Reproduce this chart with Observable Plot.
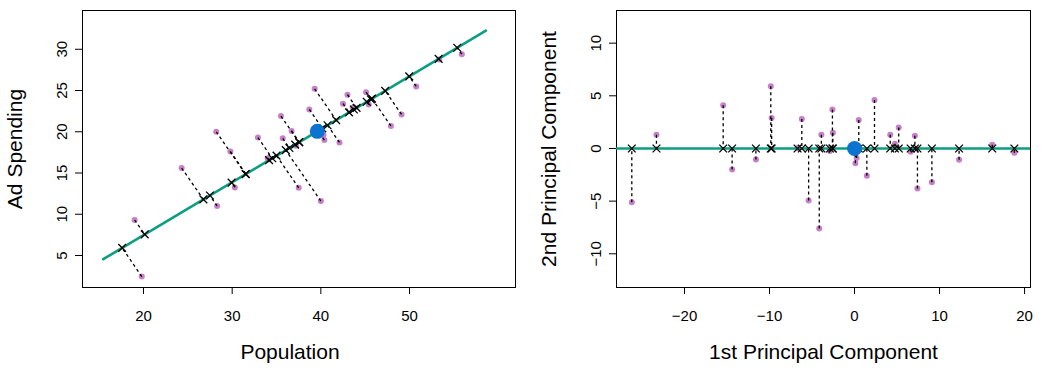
<!DOCTYPE html>
<html>
<head>
<meta charset="utf-8">
<script src="https://cdn.jsdelivr.net/npm/d3@7"></script>
<script src="https://cdn.jsdelivr.net/npm/@observablehq/plot@0.6"></script>
<style>
  html, body { margin: 0; padding: 0; background: #ffffff; }
  #chart { display: flex; flex-direction: row; width: 1042px; height: 377px; }
  #chart svg { display: block; }
</style>
</head>
<body>
<div id="chart"></div>
<script>
// ---- Left panel: raw observations (Population, Ad Spending) ----
const popValues = [28.2, 29.8, 30.3, 24.3, 28.3, 19.0, 19.8, 39.3, 43.0, 45.1,
                   42.5, 45.4, 43.6, 42.1, 47.9, 49.1, 50.75, 53.35, 55.9, 38.7,
                   35.5, 36.7, 32.9, 35.7, 40.3, 40.4, 37.5, 40.0, 34.0, 37.2];
const adValues  = [20.0, 17.6, 13.25, 15.6, 11.0, 9.3, 2.45, 25.2, 24.5, 24.8,
                   23.4, 23.3, 22.9, 18.7, 20.7, 22.1, 25.5, 28.75, 29.4, 22.7,
                   21.9, 20.1, 19.3, 19.2, 19.6, 19.0, 13.2, 11.6, 16.8, 18.3];
const meanPoint = [39.6, 20.05];        // blue dot (Population, Ad Spending)
const loading = [0.8412, 0.5401];       // first principal component direction
const lineExtent = [-28.7, 22.6];       // extent of the drawn PC1 line along the direction

// ---- Right panel: principal component scores ----
const pc1Scores = [-26.2, -23.3, -15.45, -14.4, -11.6, -9.85, -9.75, -6.7, -6.2, -5.4,
                   -4.15, -3.9, -2.9, -2.6, -2.55, 0.5, 0.25, 0.1, 1.45, 2.35,
                   4.2, 4.75, 5.2, 6.6, 7.1, 7.4, 9.1, 12.3, 16.2, 18.8];
const pc2Scores = [-5.1, 1.3, 4.1, -2.0, -1.05, 5.9, 2.9, 0.05, 2.8, -4.95,
                   -7.6, 1.3, -0.25, 3.7, 1.5, 2.7, -0.9, -1.4, -2.6, 4.6,
                   1.3, 0.45, 2.0, -0.3, 1.2, -3.8, -3.2, -1.08, 0.35, -0.4];
const pcMean = [0, 0];

// ---- Ticks & labels ----
const popTicks = [20, 30, 40, 50];
const adTicks = [5, 10, 15, 20, 25, 30];
const pc1Ticks = [-20, -10, 0, 10, 20];
const pc2Ticks = [-10, -5, 0, 5, 10];
const leftXLabel = "Population";
const leftYLabel = "Ad Spending";
const rightXLabel = "1st Principal Component";
const rightYLabel = "2nd Principal Component";

// ---- Styles ----
const PURPLE = "#c67fc8";
const BLUE = "#0b74d0";
const GREEN = "#0c9e80";
const FONT = "'Liberation Sans', Arial, Helvetica, sans-serif";

// Derived tables
const leftPts = popValues.map((p, i) => {
  const dx = p - meanPoint[0], dy = adValues[i] - meanPoint[1];
  const t = dx * loading[0] + dy * loading[1];
  return {x: p, y: adValues[i], px: meanPoint[0] + t * loading[0], py: meanPoint[1] + t * loading[1]};
});
const pcLine = lineExtent.map(t => ({x: meanPoint[0] + t * loading[0], y: meanPoint[1] + t * loading[1]}));
const rightPts = pc1Scores.map((z, i) => ({x: z, y: pc2Scores[i]}));

function axesMarks(xTicks, yTicks, xLabel, yLabel, xLabelDx) {
  return [
    Plot.frame({stroke: "black", strokeWidth: 1}),
    Plot.axisX({ticks: xTicks, tickSize: 7, tickPadding: 16, fontSize: 15, label: null, tickFormat: d => String(d).replace("-", "\u2212")}),
    Plot.axisY({ticks: yTicks, tickSize: 7, tickFormat: () => "", label: null}),
    Plot.text(yTicks, {y: d => d, text: d => String(d).replace("-", "\u2212"), frameAnchor: "left", dx: -20, rotate: -90, fontSize: 15, textAnchor: "middle", lineAnchor: "middle", fill: "black"}),
    Plot.text([xLabel], {frameAnchor: "bottom", dy: 65, dx: xLabelDx, fontSize: 21, textAnchor: "middle", lineAnchor: "middle", fill: "black"}),
    Plot.text([yLabel], {frameAnchor: "left", dx: -67, rotate: -90, fontSize: 21, textAnchor: "middle", lineAnchor: "middle", fill: "black"})
  ];
}

const left = Plot.plot({
  width: 521, height: 377,
  marginLeft: 82, marginRight: 6, marginTop: 10, marginBottom: 90,
  style: {fontFamily: FONT, background: "white", overflow: "visible"},
  x: {domain: [13.12, 61.95]},
  y: {domain: [1.12, 34.7]},
  marks: [
    ...axesMarks(popTicks, adTicks, leftXLabel, leftYLabel, -9),
    Plot.dot(leftPts, {x: "x", y: "y", r: 3, fill: PURPLE, stroke: "none"}),
    Plot.line(pcLine, {x: "x", y: "y", stroke: GREEN, strokeWidth: 2.6}),
    Plot.link(leftPts, {x1: "x", y1: "y", x2: "px", y2: "py", stroke: "black", strokeWidth: 1.3, strokeDasharray: "3,3"}),
    Plot.dot(leftPts, {x: "px", y: "py", symbol: "times", r: 3.6, stroke: "black", strokeWidth: 1.3}),
    Plot.dot([meanPoint], {x: d => d[0], y: d => d[1], r: 7.5, fill: BLUE, stroke: "none"})
  ]
});

const right = Plot.plot({
  width: 521, height: 377,
  marginLeft: 95, marginRight: 12, marginTop: 10, marginBottom: 90,
  style: {fontFamily: FONT, background: "white", overflow: "visible"},
  x: {domain: [-28, 20.7]},
  y: {domain: [-13.2, 13.1]},
  marks: [
    ...axesMarks(pc1Ticks, pc2Ticks, rightXLabel, rightYLabel, 0),
    Plot.dot(rightPts, {x: "x", y: "y", r: 3, fill: PURPLE, stroke: "none"}),
    Plot.ruleY([0], {stroke: GREEN, strokeWidth: 2.6}),
    Plot.link(rightPts, {x1: "x", y1: "y", x2: "x", y2: () => 0, stroke: "black", strokeWidth: 1.3, strokeDasharray: "3,3"}),
    Plot.dot(rightPts, {x: "x", y: () => 0, symbol: "times", r: 3.6, stroke: "black", strokeWidth: 1.3}),
    Plot.dot([pcMean], {x: d => d[0], y: d => d[1], r: 7.5, fill: BLUE, stroke: "none"})
  ]
});

document.getElementById("chart").append(left, right);
</script>
</body>
</html>
